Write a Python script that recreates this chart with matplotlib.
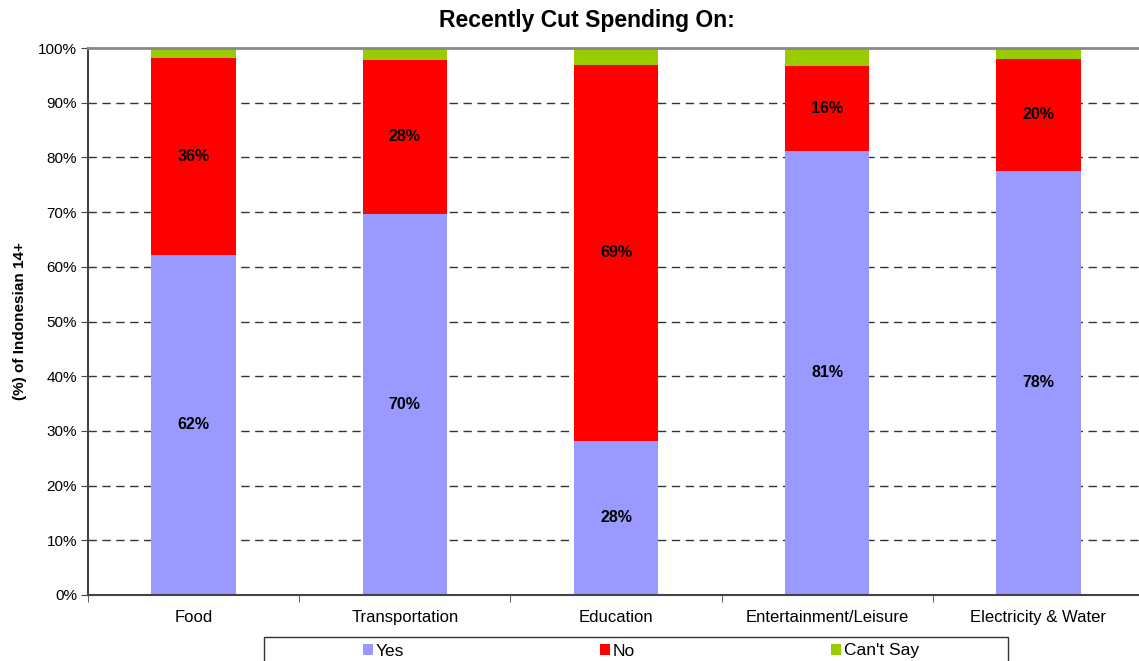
import numpy as np
import matplotlib
matplotlib.use("Agg")
from matplotlib import pyplot as plt
from matplotlib.patches import Rectangle

plt.rcParams['font.family'] = ['Liberation Sans', 'DejaVu Sans']

categories = ["Food", "Transportation", "Education", "Entertainment/Leisure", "Electricity & Water"]
yes_vals = [62.2, 69.7, 28.2, 81.2, 77.6]
no_vals = [36.0, 28.1, 68.7, 15.6, 20.4]
cant_say_vals = [1.8, 2.2, 3.1, 3.2, 2.0]
series_names = ["Yes", "No", "Can't Say"]
colors = ["#9999ff", "#ff0000", "#99cc00"]

fig = plt.figure(figsize=(11.39, 6.61), dpi=100)
ax = fig.add_axes([88 / 1139, 1 - 595 / 661, 1056 / 1139, 547 / 661])

x = np.arange(len(categories))
width = 0.4
bottom = np.zeros(len(categories))
handles = []
for vals, name, color in zip([yes_vals, no_vals, cant_say_vals], series_names, colors):
    bars = ax.bar(x, vals, width, bottom=bottom, color=color, label=name, zorder=2)
    handles.append(bars)
    if name != "Can't Say":
        for xi, v, b in zip(x, vals, bottom):
            ax.text(xi, b + v / 2, f"{v:.0f}%", ha="center", va="center",
                    fontsize=11.5, fontweight="bold", zorder=3)
    bottom += np.array(vals)

ax.set_xlim(-0.5, len(categories) - 0.5)
ax.set_ylim(0, 100)
ax.set_yticks(np.arange(0, 101, 10))
ax.set_yticklabels([f"{t}%" for t in range(0, 101, 10)], fontsize=11)
for t in range(10, 100, 10):
    ax.axhline(t, color="#333333", linestyle=(0, (6, 4)), linewidth=1, zorder=1)

ax.set_xticks(x)
ax.set_xticklabels(categories, fontsize=12)
ax.set_xticks(np.arange(-0.5, len(categories), 1), minor=True)
ax.tick_params(axis="x", which="major", length=0, pad=11)
ax.tick_params(axis="x", which="minor", length=5, direction="out", color="#444444")
ax.tick_params(axis="y", length=5, direction="out", color="#444444", pad=3)

for side in ["left", "bottom"]:
    ax.spines[side].set_color("#444444")
    ax.spines[side].set_linewidth(1.5)
ax.spines["right"].set_visible(False)
ax.spines["top"].set_color("#888888")
ax.spines["top"].set_linewidth(2)
ax.spines["top"].set_linestyle((0, (4, 1)))

ax.set_ylabel("(%) of Indonesian 14+", fontsize=11, fontweight="bold", labelpad=8)
fig.text(587 / 1139, 1 - 21 / 661, "Recently Cut Spending On:", ha="center", va="center",
         fontsize=16.5, fontweight="bold")

# legend frame (cut off by the figure bottom)
fig.patches.append(Rectangle((264 / 1139, -0.02), 744 / 1139, (661 - 637) / 661 + 0.02,
                             transform=fig.transFigure, facecolor="white",
                             edgecolor="#333333", linewidth=1))
fig.legend(handles=handles, labels=series_names, loc="center left", ncol=3,
           bbox_to_anchor=(363 / 1139, 1 - 651 / 661), frameon=False, fontsize=12.5,
           handlelength=0.58, handleheight=0.58, handletextpad=0.15, columnspacing=11.3,
           borderpad=0, borderaxespad=0)

fig.savefig("out.png", dpi=100)
